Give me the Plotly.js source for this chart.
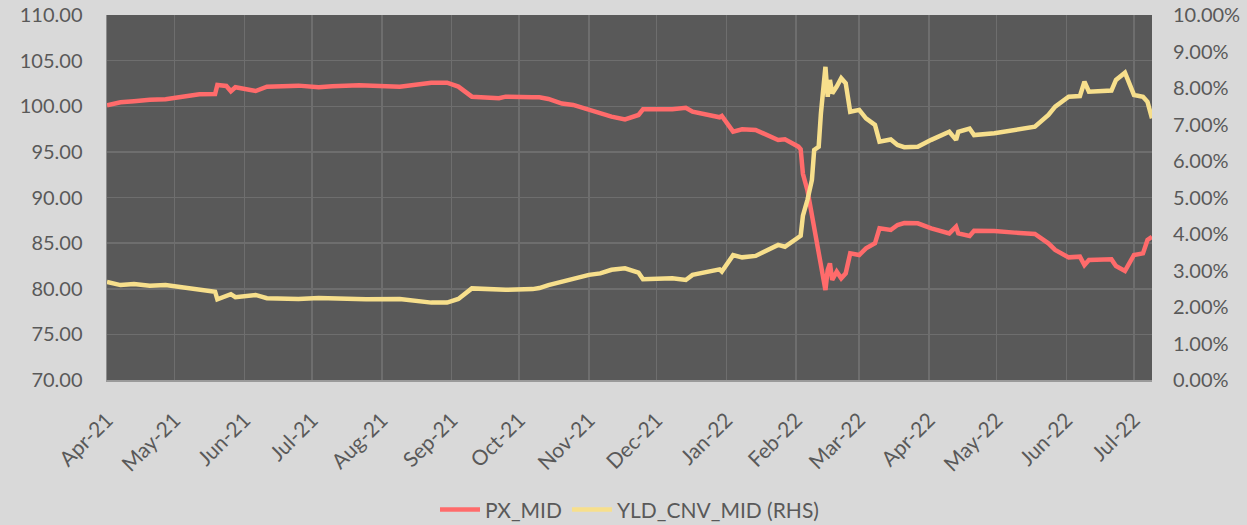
<!DOCTYPE html>
<html>
<head>
<meta charset="utf-8">
<script src="https://cdn.plot.ly/plotly-3.0.1.min.js"></script>
<style>html,body{margin:0;padding:0;background:#d9d9d9;}#chart{width:1247px;height:525px;}</style>
</head>
<body>
<div id="chart"></div>
<script>
const dates = [
 '2021-04-01','2021-04-07','2021-04-13','2021-04-17','2021-04-20','2021-04-27','2021-05-04','2021-05-12','2021-05-19','2021-05-20',
 '2021-05-24','2021-05-26','2021-05-28','2021-06-06','2021-06-11','2021-06-25','2021-07-04','2021-07-10','2021-07-22','2021-07-25',
 '2021-08-09','2021-08-23','2021-08-30','2021-09-04','2021-09-10','2021-09-22','2021-09-25','2021-10-07','2021-10-10','2021-10-14',
 '2021-10-17','2021-10-20','2021-10-25','2021-11-01','2021-11-06','2021-11-09','2021-11-11','2021-11-17','2021-11-23','2021-11-25',
 '2021-12-08','2021-12-14','2021-12-17','2021-12-29','2021-12-30','2022-01-04','2022-01-08','2022-01-14','2022-01-19','2022-01-24',
 '2022-01-27','2022-02-01','2022-02-02','2022-02-03','2022-02-04','2022-02-06','2022-02-08','2022-02-09','2022-02-11','2022-02-12',
 '2022-02-14','2022-02-15','2022-02-16','2022-02-17','2022-02-19','2022-02-21','2022-02-23','2022-02-25','2022-03-01','2022-03-04',
 '2022-03-08','2022-03-10','2022-03-15','2022-03-18','2022-03-21','2022-03-27','2022-04-02','2022-04-10','2022-04-13','2022-04-14',
 '2022-04-19','2022-04-21','2022-04-30','2022-05-09','2022-05-18','2022-05-24','2022-05-27','2022-06-02','2022-06-07','2022-06-09',
 '2022-06-11','2022-06-21','2022-06-23','2022-06-27','2022-07-01','2022-07-05','2022-07-07','2022-07-09'
];
const pxMid = [
 100.10,100.43,100.55,100.68,100.70,100.76,100.98,101.31,101.34,102.33,
 102.22,101.64,102.08,101.67,102.15,102.26,102.08,102.20,102.29,102.25,
 102.15,102.58,102.58,102.15,101.05,100.87,101.05,101.00,100.98,100.80,
 100.50,100.30,100.14,99.60,99.30,99.10,98.86,98.55,99.04,99.66,
 99.66,99.84,99.40,98.79,98.93,97.22,97.47,97.40,96.85,96.30,
 96.37,95.80,95.57,95.30,92.60,90.80,87.90,86.80,83.90,82.60,
 79.86,82.05,82.78,80.96,81.87,81.14,81.69,83.88,83.70,84.43,
 84.98,86.62,86.44,86.99,87.20,87.17,86.62,86.07,86.80,86.07,
 85.78,86.36,86.33,86.15,86.00,84.98,84.25,83.44,83.52,82.60,
 83.15,83.22,82.49,81.95,83.70,83.88,85.34,85.70
];
const yldCnvMid = [
 2.69,2.60,2.63,2.60,2.58,2.60,2.54,2.47,2.42,2.21,
 2.30,2.35,2.27,2.33,2.24,2.22,2.25,2.24,2.21,2.21,
 2.22,2.12,2.12,2.22,2.51,2.49,2.47,2.49,2.52,2.60,
 2.65,2.69,2.76,2.88,2.92,3.00,3.02,3.06,2.94,2.76,
 2.79,2.74,2.88,3.03,2.97,3.42,3.36,3.40,3.56,3.70,
 3.65,3.88,3.93,3.95,4.50,4.93,5.48,6.30,6.39,7.31,
 8.58,7.76,8.22,7.85,8.04,8.27,8.13,7.35,7.40,7.17,
 6.99,6.53,6.59,6.44,6.38,6.39,6.58,6.80,6.58,6.80,
 6.89,6.71,6.76,6.85,6.94,7.26,7.49,7.76,7.78,8.17,
 7.90,7.93,8.22,8.42,7.81,7.76,7.62,7.17
];
const seriesNames = ['PX_MID','YLD_CNV_MID (RHS)'];

const fontFam = 'Lato, "Open Sans", sans-serif';
const txt = '#595959';

const traces = [
 {x: dates, y: pxMid, name: seriesNames[0], type: 'scatter', mode: 'lines',
  line: {color: '#ff6b6b', width: 4.5}, yaxis: 'y'},
 {x: dates, y: yldCnvMid, name: seriesNames[1], type: 'scatter', mode: 'lines',
  line: {color: '#f7df8c', width: 4.5}, yaxis: 'y2'}
];

const layout = {
 width: 1247, height: 525, autosize: false,
 paper_bgcolor: '#d9d9d9', plot_bgcolor: '#595959',
 margin: {l: 107, r: 95, t: 15, b: 145, autoexpand: false},
 font: {family: fontFam, color: txt, size: 19},
 showlegend: true,
 legend: {orientation: 'h', x: 0.5, xanchor: 'center', y: -0.356, yanchor: 'middle',
  itemwidth: 40,
  font: {family: fontFam, size: 21, color: txt}, bgcolor: 'rgba(0,0,0,0)'},
 xaxis: {type: 'date', range: ['2021-04-01', '2022-07-09'], tick0: '2021-04-01', dtick: 'M1',
  tickformat: '%b-%y', tickangle: -45, showgrid: true, gridcolor: '#6e6e6e', gridwidth: 1.5,
  showline: true, linecolor: '#9a9a9a', linewidth: 1.5, ticks: '', zeroline: false,
  automargin: false, ticklabelstandoff: 18,
  tickfont: {family: fontFam, size: 21, color: txt}},
 yaxis: {range: [70, 110], dtick: 5, tickformat: '.2f', showgrid: true, gridcolor: '#6e6e6e', gridwidth: 1.5,
  showline: true, linecolor: '#8c8c8c', linewidth: 1.5, zeroline: false, ticks: '',
  automargin: false, ticklabelstandoff: 19,
  tickfont: {family: fontFam, size: 20, color: txt}},
 yaxis2: {range: [0, 10], dtick: 1, tickformat: '.2f', ticksuffix: '%', overlaying: 'y', side: 'right',
  showgrid: false, zeroline: false, showline: false, ticks: '',
  automargin: false, ticklabelstandoff: 20,
  tickfont: {family: fontFam, size: 20, color: txt}}
};

Plotly.newPlot('chart', traces, layout, {staticPlot: true});
</script>
</body>
</html>
